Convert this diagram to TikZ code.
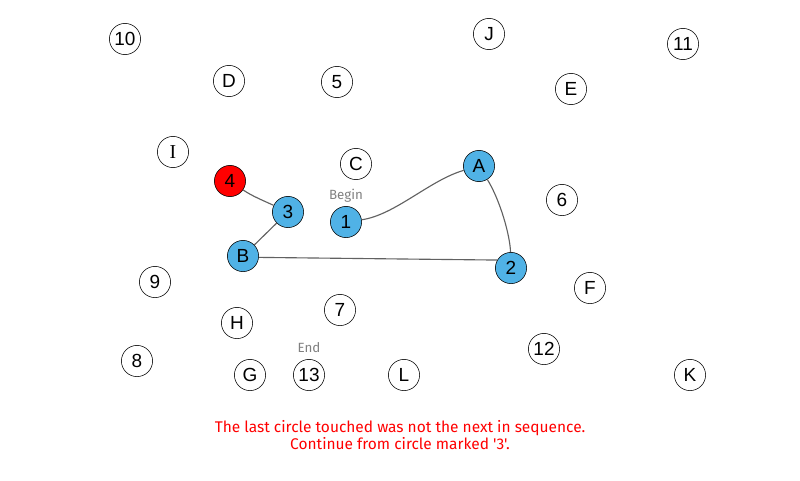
\documentclass[tikz,border=0pt]{standalone}
\usepackage{fontspec}
\setmainfont{Liberation Sans}
\newfontfamily\msgfont{Fira Sans}
\newfontfamily\seriffont{Liberation Serif}
\usetikzlibrary{positioning}
\definecolor{trailblue}{RGB}{80,178,230}
\tikzset{x=0.025cm, y=-0.025cm, % one unit is one pixel of the trail screen
	dot/.style={circle, draw, thin, fill=white, minimum size=0.78cm, inner sep=0pt, font=\fontsize{13.5}{15}\selectfont}, % every circle
	done/.style={dot, fill=trailblue}, % circles already joined
	wrong/.style={dot, fill=red}, % the circle touched out of order
	trail/.style={draw=black!62, line width=0.8pt}, % the drawn line
	hint/.style={text=black!50, font=\msgfont\fontsize{9.5}{11}\selectfont},
}

\begin{document}
\begin{tikzpicture}
	\useasboundingbox (0,0) rectangle (800,480);
	% circles not yet reached
	\node[dot] (ten) at (125,39) {10};
	\node[dot] (D) at (229,81) {D};
	\node[dot] (five) at (337,82) {5};
	\node[dot] (J) at (489,34) {J};
	\node[dot] (eleven) at (683,44) {11};
	\node[dot] (E) at (571,89) {E};
	\node[dot, font=\seriffont\fontsize{14}{15}\selectfont] (I) at (173,152) {I};
	\node[dot] (C) at (356,164) {C};
	\node[dot] (six) at (562,200) {6};
	\node[dot] (nine) at (155,282) {9};
	\node[dot] (F) at (590,288) {F};
	\node[dot] (seven) at (340,310) {7};
	\node[dot] (H) at (237,323) {H};
	\node[dot] (eight) at (137,361) {8};
	\node[dot] (twelve) at (544,349) {12};
	\node[dot] (G) at (250,375) {G};
	\node[dot] (thirteen) at (309,375) {13};
	\node[dot] (L) at (404,375) {L};
	\node[dot] (K) at (690,375) {K};
	% the trail so far
	\node[done] (one) at (346,222) {1};
	\node[done] (A) at (479,166) {A};
	\node[done] (two) at (511,268) {2};
	\node[done] (B) at (243,256) {B};
	\node[done] (three) at (288,212) {3};
	\node[wrong] (four) at (230,181) {4};
	\draw[trail] (one) .. controls (395,215) and (430,180) .. (A);
	\draw[trail] (A) .. controls (500,200) and (510,235) .. (two);
	\draw[trail] (B.-5) -- (two.150);
	\draw[trail] (B) -- (three);
	\draw[trail] (three) .. controls (262,200) and (252,196) .. (four);
	% start and finish
	\node[hint, above=-1pt of one] (begin) {Begin};
	\node[hint, above=1pt of thirteen] (finish) {End};
	%% the message
	\node[text=red, align=center, font=\msgfont\fontsize{11}{12.2}\selectfont] (msg) at (400,435)
		{The last circle touched was not the next in sequence.\\Continue from circle marked '3'.};
\end{tikzpicture}
\end{document}
